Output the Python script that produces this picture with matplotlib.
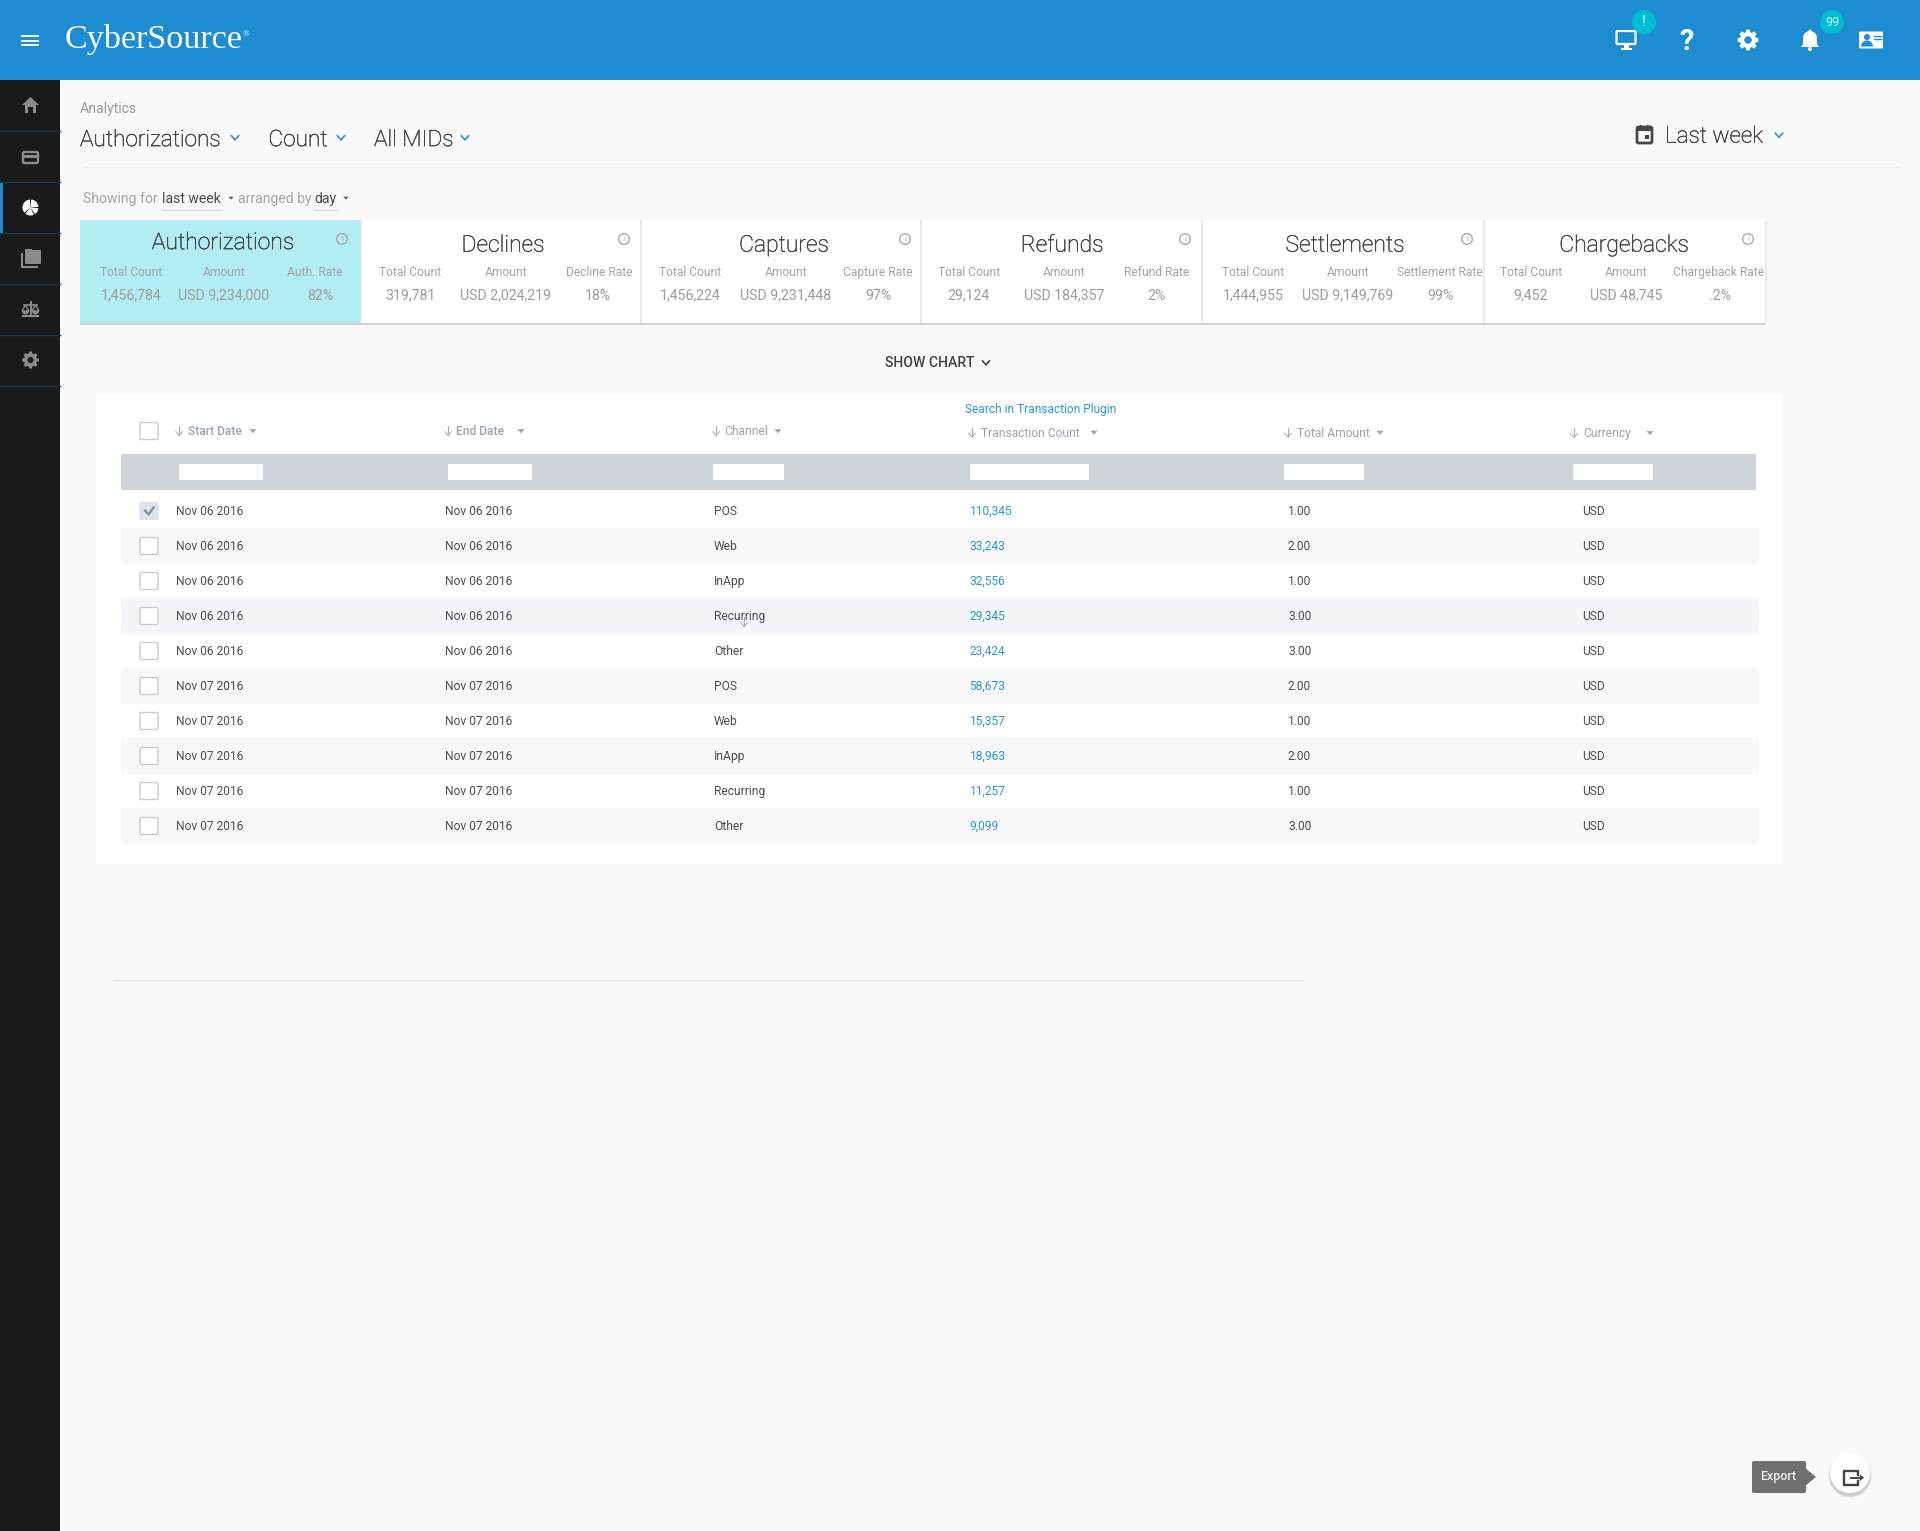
import numpy as np
import matplotlib
matplotlib.use("Agg")
import matplotlib.pyplot as plt
import matplotlib.patheffects as pe
from matplotlib.patches import Rectangle, Circle, Polygon, FancyBboxPatch, Wedge

# ---------- data ----------
page_section = "Analytics"
selectors = ["Authorizations", "Count", "All MIDs"]
period_label = "Last week"
card_titles = ["Authorizations", "Declines", "Captures", "Refunds", "Settlements", "Chargebacks"]
card_counts = ["1,456,784", "319,781", "1,456,224", "29,124", "1,444,955", "9,452"]
card_amounts = ["USD 9,234,000", "USD 2,024,219", "USD 9,231,448", "USD 184,357", "USD 9,149,769", "USD 48,745"]
card_rate_labels = ["Auth. Rate", "Decline Rate", "Capture Rate", "Refund Rate", "Settlement Rate", "Chargeback Rate"]
card_rates = ["82%", "18%", "97%", "2%", "99%", ".2%"]
col_headers = ["Start Date", "End Date", "Channel", "Transaction Count", "Total Amount", "Currency"]
start_dates = ["Nov 06 2016"] * 5 + ["Nov 07 2016"] * 5
end_dates = ["Nov 06 2016"] * 5 + ["Nov 07 2016"] * 5
channels = ["POS", "Web", "InApp", "Recurring", "Other"] * 2
txn_counts = ["110,345", "33,243", "32,556", "29,345", "23,424", "58,673", "15,357", "18,963", "11,257", "9,099"]
amounts = ["1.00", "2.00", "1.00", "3.00", "3.00", "2.00", "1.00", "2.00", "1.00", "3.00"]
currencies = ["USD"] * 10

# ---------- layout ----------
BLUE = "#1E8CD0"; LINK = "#2B95D6"; DARK = "#1A1A1A"; BG = "#F9F9F9"
TXT = "#4A4F55"; GREY = "#A3A3A3"; TEAL = "#00BCD4"
plt.rcParams["font.family"] = ["Roboto", "DejaVu Sans"]

fig = plt.figure(figsize=(19.2, 15.31), dpi=100, facecolor=BG)
ax = fig.add_axes([0, 0, 1, 1])
ax.set_xlim(0, 1920); ax.set_ylim(1531, 0); ax.axis("off")


def rect(x0, y0, x1, y1, c, z=1, **k):
    ax.add_patch(Rectangle((x0, y0), x1 - x0, y1 - y0, fc=c, ec="none", zorder=z, **k))


def text(x, y, s, px, c=TXT, ha="left", w="normal", fam=None, z=5, stroke=0):
    kw = {"family": fam} if fam else {}
    t = ax.text(x, y + 1.1, s, fontsize=px * 0.72, color=c, ha=ha, va="center", weight=w, zorder=z, **kw)
    if stroke:
        t.set_path_effects([pe.withStroke(linewidth=stroke, foreground=c)])


def chevron(x, y, c=LINK, s=4.2, lw=1.2, z=5):
    ax.plot([x - s, x, x + s], [y - s * 0.55, y + s * 0.55, y - s * 0.55], color=c, lw=lw, zorder=z,
            solid_capstyle="butt", solid_joinstyle="miter")


def caret(x, y, c="#8A8A8A", s=4, z=5):
    ax.add_patch(Polygon([(x - s, y - s * 0.5), (x + s, y - s * 0.5), (x, y + s * 0.6)], fc=c, ec="none", zorder=z))


def gear(cx, cy, r, c, hole_c, z=6):
    n = 8
    pts = []
    for i in range(n):
        a = 2 * np.pi * i / n
        for da, rr in [(-0.30, r * 0.76), (-0.17, r), (0.17, r), (0.30, r * 0.76)]:
            pts.append((cx + rr * np.cos(a + da), cy + rr * np.sin(a + da)))
    ax.add_patch(Polygon(pts, fc=c, ec="none", zorder=z))
    ax.add_patch(Circle((cx, cy), r * 0.36, fc=hole_c, ec="none", zorder=z + 0.1))


def info(x, y, c="#A8A8A8"):
    ax.add_patch(Circle((x, y), 5.3, fc="none", ec=c, lw=1, zorder=6))
    text(x, y - 0.8, "i", 8, c, ha="center")


def arrow_down(x, y, c="#A9B0B7", lw=0.8):
    ax.plot([x, x], [y - 5, y + 4], color=c, lw=lw, zorder=6)
    ax.plot([x - 3.2, x, x + 3.2], [y + 0.7, y + 4.5, y + 0.7], color=c, lw=lw, zorder=6)


# ---------- chrome ----------
rect(0, 0, 1920, 80, BLUE, 3)
rect(0, 80, 60, 1531, DARK, 3)
for ys in [131, 182, 233, 284, 335, 386]:
    ax.plot([0, 60], [ys, ys], color="#1B3446", lw=1, zorder=4)
rect(0, 183, 3, 233, BLUE, 5)

# hamburger
for yy in [36, 40.5, 45]:
    ax.plot([22, 38], [yy, yy], color="white", lw=1.4, zorder=6)
text(65, 38.5, "CyberSource", 34.2, "white", fam="Liberation Serif")
text(243, 33, "®", 9, "white", fam="Liberation Serif")

# sidebar icons
IC = "#8C8C8C"
ax.add_patch(Polygon([(30.5, 97), (39, 105), (36, 105), (36, 113), (33, 113), (33, 107), (28, 107), (28, 113),
                      (25, 113), (25, 105), (22, 105)], fc=IC, ec="none", zorder=6))
ax.add_patch(FancyBboxPatch((23, 152), 15, 11, boxstyle="round,pad=0,rounding_size=1.5", fc="none", ec=IC, lw=1.7, zorder=6))
rect(23, 154.5, 38, 157.5, IC, 6)
pc = (30.5, 207.5)
for a0, a1 in [(-85, -5), (5, 55), (65, 130), (140, 265)]:
    ax.add_patch(Wedge(pc, 8, a0, a1, fc="white", ec="none", zorder=6))
ax.add_patch(FancyBboxPatch((25, 250), 16, 14, boxstyle="round,pad=0,rounding_size=1", fc=IC, ec="none", zorder=6))
rect(25, 249, 32, 253, IC, 6)
ax.plot([21.5, 21.5, 37], [254, 266.5, 266.5], color=IC, lw=1.5, zorder=6)
ax.plot([30.5, 30.5], [302, 315], color=IC, lw=1.4, zorder=6)
ax.plot([23, 38], [316, 316], color=IC, lw=1.6, zorder=6)
ax.plot([24, 37], [305, 305], color=IC, lw=1.2, zorder=6)
for sx in [25.5, 35.5]:
    ax.add_patch(Polygon([(sx - 3.5, 311), (sx, 305), (sx + 3.5, 311)], fc="none", ec=IC, lw=1, zorder=6))
    ax.add_patch(Wedge((sx, 311), 3.5, 0, 180, fc=IC, ec="none", zorder=6))
gear(30.5, 360, 8.5, IC, DARK)

# top right icons
ax.add_patch(FancyBboxPatch((1616.5, 31), 19, 13, boxstyle="round,pad=0,rounding_size=1", fc="none", ec="white", lw=1.6, zorder=6))
rect(1624, 45, 1629, 48, "white", 6); rect(1621, 48, 1632, 50, "white", 6)
for bx, lab in [(1644, "!"), (1832, "99")]:
    ax.add_patch(Circle((bx, 22), 12, fc=TEAL, ec="none", zorder=6))
    text(bx, 21, lab, 14 if lab == "!" else 12.5, "#D8F5F8", ha="center", z=7)
text(1687, 41, "?", 29, "white", ha="center", w="bold", z=7)
gear(1748, 40, 10.5, "white", BLUE)
ax.add_patch(Wedge((1810, 38), 7, 180, 360, fc="white", ec="none", zorder=6))
ax.add_patch(Polygon([(1803, 38), (1817, 38), (1817, 44), (1819, 47), (1801, 47), (1803, 44)], fc="white", ec="none", zorder=6))
ax.add_patch(Circle((1810, 49), 2, fc="white", ec="none", zorder=6))
ax.add_patch(Circle((1810, 31), 1.5, fc="white", ec="none", zorder=6))
ax.add_patch(FancyBboxPatch((1859, 31.5), 24, 17, boxstyle="round,pad=0,rounding_size=1.5", fc="white", ec="none", zorder=6))
ax.add_patch(Circle((1867, 37), 3, fc=BLUE, ec="none", zorder=7))
ax.add_patch(Wedge((1867, 46.5), 6, 180, 360, fc=BLUE, ec="none", zorder=7))
for ly in [35.5, 38.5]:
    ax.plot([1873.5, 1881], [ly, ly], color=BLUE, lw=1, zorder=7)

# page heading
HEAD = "#3C4146"
text(80, 107.5, page_section, 14, "#9A9A9A")
for x, s, cx in zip([80, 268.5, 374], selectors, [235, 341, 465]):
    text(x, 138.5, s, 22.6, HEAD, w="light", stroke=0.3)
    chevron(cx, 137.5)
text(1665, 135, period_label, 22.6, HEAD, w="light", stroke=0.3)
chevron(1779, 135)
ax.add_patch(FancyBboxPatch((1637, 127), 15, 16, boxstyle="round,pad=0,rounding_size=1.5", fc="none", ec="#45494D", lw=2, zorder=6))
rect(1637, 127, 1652, 131, "#45494D", 6)
rect(1640, 125, 1642, 128, "#45494D", 6); rect(1647, 125, 1649, 128, "#45494D", 6)
rect(1645, 135, 1649, 139, "#45494D", 6)
ax.plot([83, 1900], [167, 167], color="#EEEEEE", lw=1, zorder=2)

text(83, 198, "Showing for", 14, "#A5A5A5")
text(162, 198, "last week", 14, "#4A4A4A")
ax.plot([162, 222], [210, 210], color="#DDDDDD", lw=1, zorder=2)
caret(231, 198, "#555555", 2.6)
text(238, 198, "arranged by", 14, "#A5A5A5")
text(314, 198, "day", 14, "#4A4A4A")
ax.plot([314, 338], [210, 210], color="#DDDDDD", lw=1, zorder=2)
caret(346, 198, "#555555", 2.6)

# ---------- summary cards ----------
card_edges = [80, 361, 641, 921, 1202, 1484, 1765]
title_x = [223, 503, 784, 1062, 1345, 1624]
count_x = [131, 410, 690, 969, 1253, 1531]
amount_x = [224, 506, 786, 1064, 1348, 1626]
rate_label_x = [315, 599, 878, 1157, 1440, 1719]
rate_x = [320, 598, 878, 1157, 1440, 1720]
info_x = [342, 624, 905, 1185, 1467, 1748]
rect(80, 322, 1766, 325, "#D2D2D2", 1)
rect(1765, 221, 1767, 323, "#E9E9E9", 1)
rect(80, 220, 1765, 323, "white", 2)
rect(80, 220, 360.5, 323, "#B2EDF4", 2.5)
for e in card_edges[2:-1]:
    rect(e - 1, 220, e + 1, 323, "#E9EBEE", 3)
for i in range(6):
    text(title_x[i], 241.5 if i == 0 else 244, card_titles[i], 22.9, HEAD, ha="center", w="light", stroke=0.3)
    info(info_x[i], 239)
    text(count_x[i], 271.5, "Total Count", 12, GREY, ha="center")
    text(amount_x[i], 271.5, "Amount", 12, GREY, ha="center")
    text(rate_label_x[i], 271.5, card_rate_labels[i], 12, GREY, ha="center")
    text(count_x[i], 294.5, card_counts[i], 14.1, "#9C9C9C", ha="center")
    text(amount_x[i], 294.5, card_amounts[i], 14.1, "#9C9C9C", ha="center")
    text(rate_x[i], 294.5, card_rates[i], 14.1, "#9C9C9C", ha="center")

text(930, 361.5, "SHOW CHART", 14, "#3F4346", ha="center", w="medium")
chevron(986, 362.5, "#3F4346", 4, 1.2)

# ---------- table ----------
rect(96, 395, 1781, 864, "white", 1)
text(965, 408.5, "Search in Transaction Plugin", 11.9, LINK)
rect(121, 454, 1756, 490, "#CED3D7", 2)
col_x = [176, 445, 714, 969.5, 1288, 1582]
head_x = [188, 456, 724.5, 981, 1297, 1583]
head_y = [430.5, 430.5, 430.5, 432, 432, 432.5]
arrow_x = [179, 448, 716, 972, 1288, 1574]
caret_x = [253, 521, 778, 1094, 1380, 1650]
head_w = ["medium", "medium", "normal", "normal", "normal", "normal"]
box_x = [(179, 263), (448, 532), (713, 784), (970, 1089), (1284, 1364), (1573, 1653)]
for j in range(6):
    text(head_x[j], head_y[j], col_headers[j], 12, "#9AA3AB", w=head_w[j])
    arrow_down(arrow_x[j], head_y[j] + 0.5)
    caret(caret_x[j], head_y[j] + 0.5, "#9AA3AB", 3.6)
    rect(box_x[j][0], 464, box_x[j][1], 480, "white", 3)


def checkbox(y, checked=False):
    ax.add_patch(FancyBboxPatch((140, y - 8.5), 18, 17, boxstyle="round,pad=0,rounding_size=1.5",
                                fc="#DDE3EA" if checked else "white",
                                ec="#DDE3EA" if checked else "#C8CCD0", lw=1, zorder=4))
    if checked:
        ax.plot([145, 148.5, 153.5], [y - 0.5, y + 3.5, y - 3.5], color="#7F8E9C", lw=1.6, zorder=5)


checkbox(431)
for i in range(10):
    y = 510.2 + 35 * i
    if i == 3:
        rect(121, y - 17.2, 1759, y + 18.8, "#F3F5F8", 1.5)
    elif i % 2 == 1:
        rect(121, y - 17.2, 1759, y + 18.8, "#F8F8F8", 1.5)
    checkbox(y + 0.8, i == 0)
    text(col_x[0], y, start_dates[i], 12)
    text(col_x[1], y, end_dates[i], 12)
    text(col_x[2], y, channels[i], 12)
    text(col_x[3], y, txn_counts[i], 12, LINK)
    text(col_x[4], y, amounts[i], 12)
    text(col_x[5], y, currencies[i], 12)
arrow_down(744, 622)
ax.plot([113, 1303], [980, 980], color="#E3E3E3", lw=1, zorder=2)

# ---------- export ----------
ax.add_patch(FancyBboxPatch((1752, 1461), 54, 32, boxstyle="round,pad=0,rounding_size=2", fc="#6F6F6F", ec="none", zorder=4))
ax.add_patch(Polygon([(1805, 1468), (1816, 1477), (1805, 1486)], fc="#6F6F6F", ec="none", zorder=4))
text(1778.5, 1475, "Export", 12.5, "#EFEFEF", ha="center", w="medium")
for r, a in [(22, 0.04), (21, 0.06), (20.5, 0.08)]:
    ax.add_patch(Circle((1850, 1476), r, fc="black", ec="none", alpha=a, zorder=4))
ax.add_patch(Circle((1850, 1473), 20, fc="white", ec="none", zorder=5))
ax.plot([1858, 1858, 1843.5, 1843.5, 1858, 1858], [1474.5, 1471, 1471, 1484.5, 1484.5, 1481], color="#3F4449", lw=1.7, zorder=6,
        solid_joinstyle="round")
ax.plot([1851, 1861], [1477.7, 1477.7], color="#3F4449", lw=1.4, zorder=6)
ax.add_patch(Polygon([(1860, 1474.5), (1864, 1477.7), (1860, 1481)], fc="#3F4449", ec="none", zorder=6))

fig.savefig("out.png", dpi=100, facecolor=BG)
